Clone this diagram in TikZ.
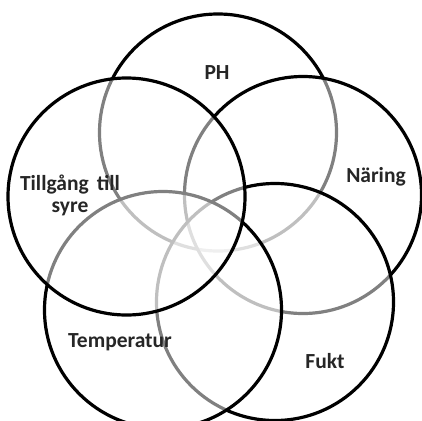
\documentclass[tikz,border=0pt]{standalone}
\usepackage{fontspec}
\setmainfont{Carlito}
\begin{document}
\begin{tikzpicture}[x=1pt,y=-1pt,
  ring/.style={circle, draw=black, line width=3.2pt, fill=white, fill opacity=0.5, draw opacity=1, minimum size=237pt, inner sep=0pt},
  lbl/.style={font=\bfseries\fontsize{21.5}{25}\selectfont, text=black!85, align=center, inner sep=0pt}]
\useasboundingbox (0,0) rectangle (422,420);
\fill[white] (0,0) rectangle (422,420);
\node[ring] (ph) at (218,132.5) {};
\node[ring] (naring) at (303,195) {};
\node[ring] (fukt) at (275,302) {};
\node[ring] (temp) at (163,310) {};
\node[ring] (syre) at (126.5,196.5) {};
\node[lbl] (tph) at (217,73) {PH};
\node[lbl] (tnaring) at (376,177) {Näring};
\node[lbl] (tsyre) at (70,195) {Tillgång\hspace{0.15em} till\\[-3pt]syre};
\node[lbl] (ttemp) at (120,342) {Temperatur};
\node[lbl] (tfukt) at (325,361) {Fukt};
\end{tikzpicture}
\end{document}
